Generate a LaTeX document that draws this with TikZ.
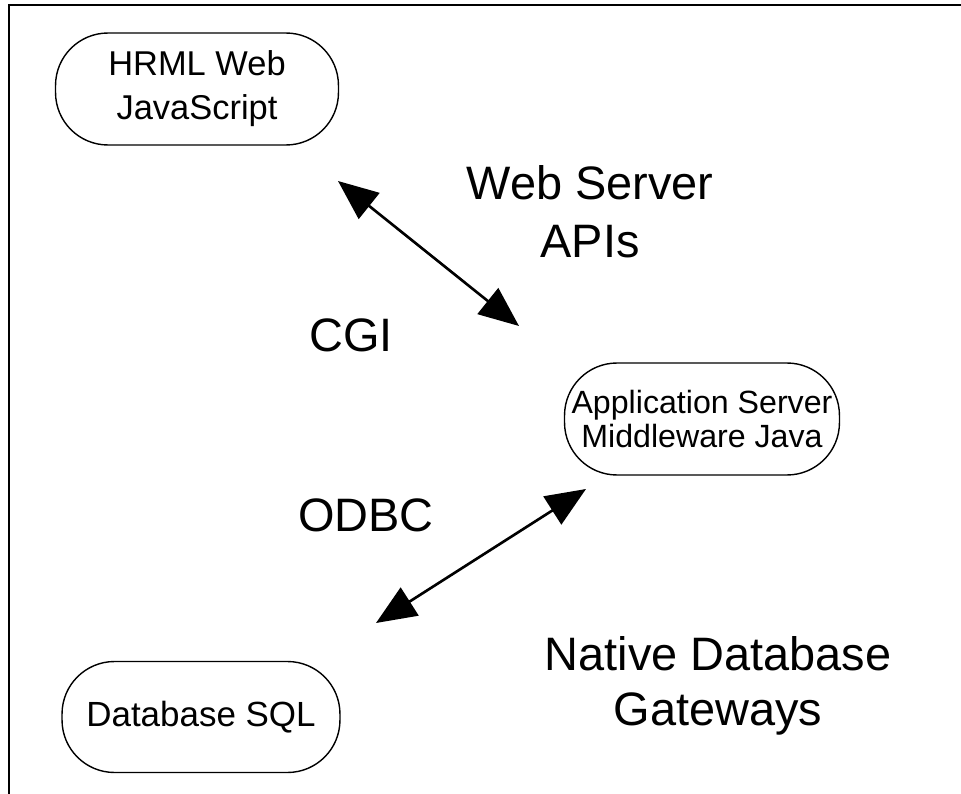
\documentclass[tikz,border=0pt]{standalone}
\usepackage{fontspec}
\setmainfont{Liberation Sans}
\usetikzlibrary{arrows.meta}

\begin{document}
\begin{tikzpicture}[x=0.02cm, y=-0.02cm,
    box/.style={draw, line width=0.8pt, rounded corners=1.05cm, align=center, inner sep=0pt},
    lbl/.style={align=center, font=\fontsize{26.7}{33}\selectfont},
    link/.style={line width=1.5pt, {Triangle[length=0.8cm,width=0.66cm]}-{Triangle[length=0.8cm,width=0.66cm]}}]
    \useasboundingbox (0,0) rectangle (961,794);

    % frame (only top and left edges show)
    \draw[line width=1.7pt] (961,5) -- (9,5) -- (9,794);

    % the three tiers
    \node[box, minimum width=5.66cm, minimum height=2.24cm,
          font=\fontsize{19.6}{25}\selectfont] (web) at (197,89) {HRML Web\\JavaScript};
    \node[box, minimum width=5.5cm, minimum height=2.24cm,
          font=\fontsize{18.3}{19}\selectfont] (app) at (702,419) {Application Server\\Middleware Java};
    \node[box, minimum width=5.56cm, minimum height=2.22cm,
          font=\fontsize{19.9}{24}\selectfont] (db) at (201,717) {Database SQL};

    % interface labels
    \node[lbl] (apis) at (590,212) {Web Server\\APIs};
    \node[lbl] (cgi) at (351,335) {CGI};
    \node[lbl] (odbc) at (366,515) {ODBC};
    \node[lbl, font=\fontsize{26.7}{31}\selectfont] (gate) at (718,686) {Native Database\\Gateways};

    % arrows between tiers
    \coordinate (top1) at (338,181);
    \coordinate (top2) at (519,326);
    \coordinate (low1) at (586,489);
    \coordinate (low2) at (376,623);
    \draw[link] (top1) -- (top2);
    \draw[link] (low1) -- (low2);
\end{tikzpicture}
\end{document}
